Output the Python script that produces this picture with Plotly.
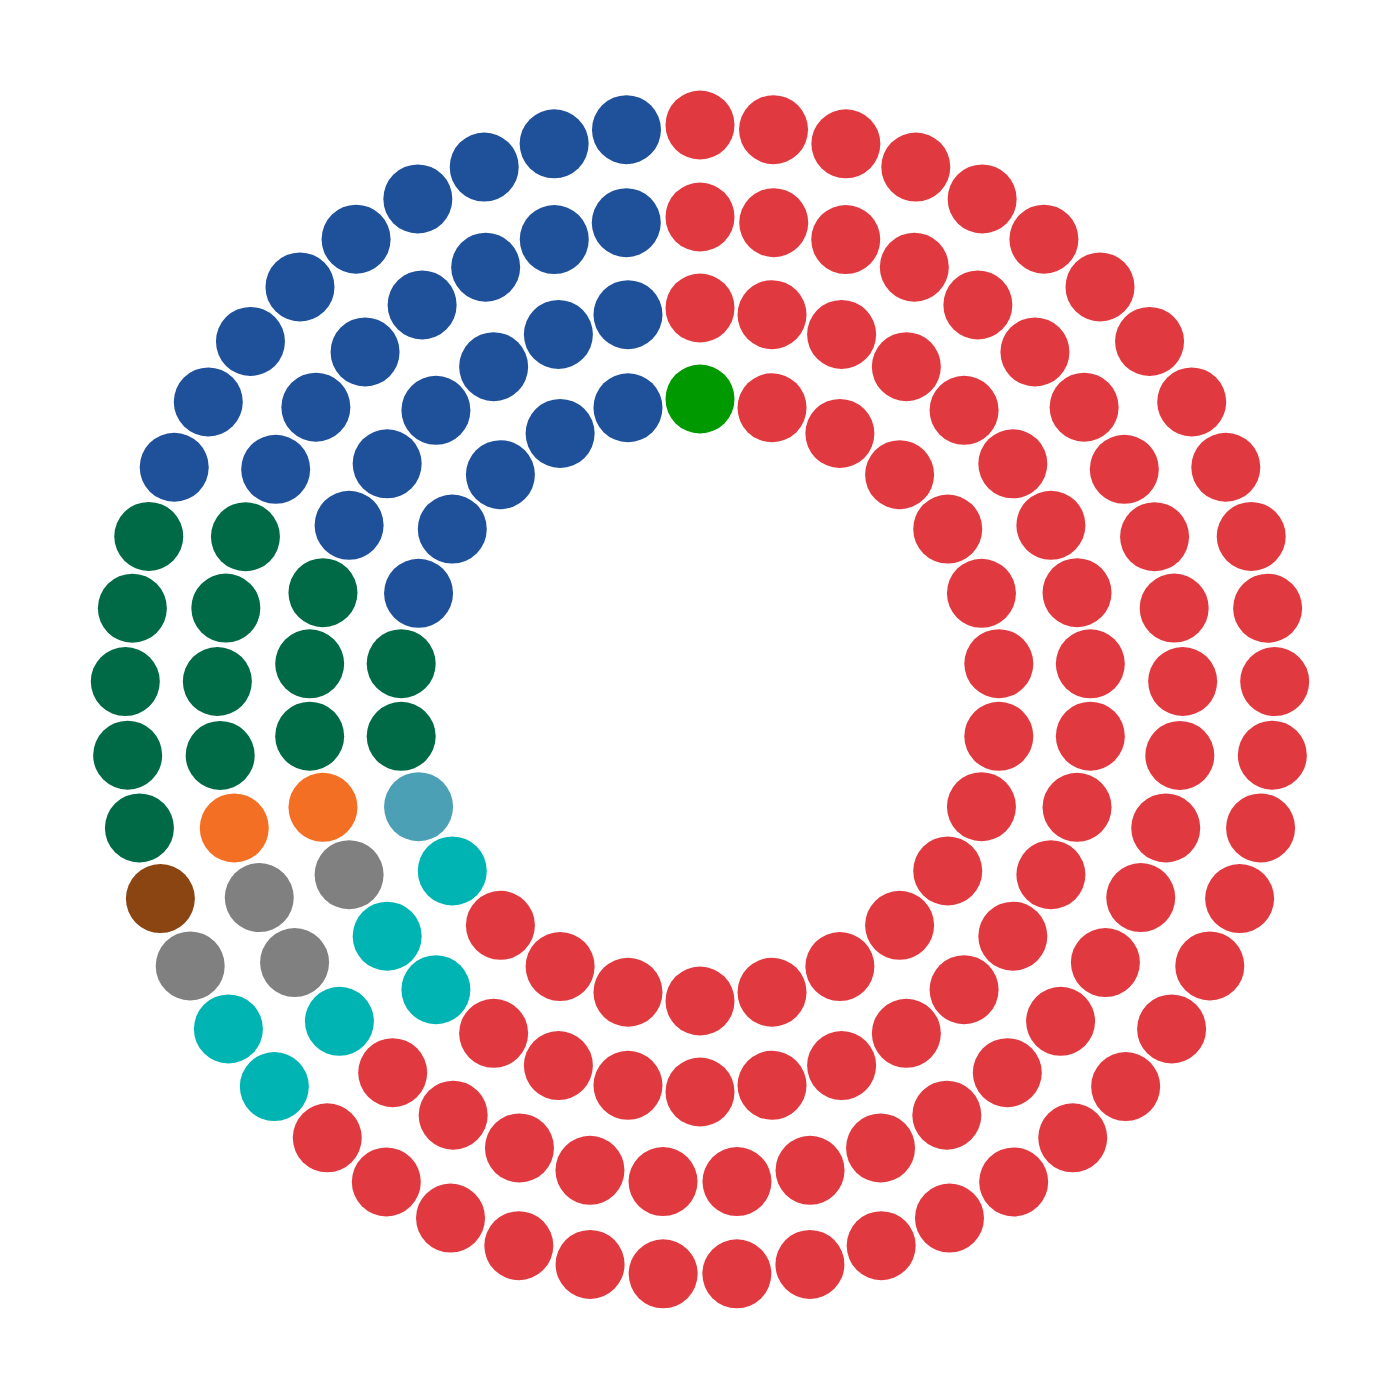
#!/usr/bin/env python3
"""
Full-circle parliament chart: 150 seats on 4 concentric rings.
"""
import math
import plotly.graph_objects as go

PARTIES = ["red", "teal", "grey", "lightblue", "brown", "orange", "darkgreen", "blue", "green"]
COLORS = {
    "red":       "#E03A40",
    "teal":      "#00B4B4",
    "grey":      "#808080",
    "lightblue": "#4CA0B5",
    "brown":     "#8B4513",
    "orange":    "#F36F24",
    "darkgreen": "#006A46",
    "blue":      "#1F509A",
    "green":     "#009900",
}

# seats per party on each ring, clockwise starting at the top seat (outer ring first)
RING_OUTER = [("red", 31), ("teal", 2), ("grey", 1), ("brown", 1), ("darkgreen", 5), ("blue", 9)]
RING_2     = [("red", 26), ("teal", 1), ("grey", 2), ("orange", 1), ("darkgreen", 4), ("blue", 7)]
RING_3     = [("red", 21), ("teal", 2), ("grey", 1), ("orange", 1), ("darkgreen", 3), ("blue", 6)]
RING_INNER = [("green", 1), ("red", 16), ("teal", 1), ("lightblue", 1), ("darkgreen", 2), ("blue", 5)]
RINGS = [RING_OUTER, RING_2, RING_3, RING_INNER]
RADII = [575, 483, 392, 301]

pts = {p: ([], []) for p in PARTIES}
for ring, r in zip(RINGS, RADII):
    n = sum(c for _, c in ring)
    k = 0
    for party, count in ring:
        for _ in range(count):
            a = math.pi / 2 - 2 * math.pi * k / n
            pts[party][0].append(r * math.cos(a))
            pts[party][1].append(r * math.sin(a))
            k += 1

fig = go.Figure()
for party in PARTIES:
    xs, ys = pts[party]
    fig.add_trace(go.Scatter(
        x=xs, y=ys, mode="markers", name=party,
        marker=dict(size=69, color=COLORS[party], line=dict(width=0)),
        hoverinfo="name",
    ))

# page body has an 8px margin, so shift the ranges to keep the centre at 700,700
fig.update_layout(
    width=1400, height=1400,
    margin=dict(l=0, r=0, t=0, b=0),
    paper_bgcolor="white", plot_bgcolor="white",
    showlegend=False,
    xaxis=dict(range=[-692, 708], visible=False),
    yaxis=dict(range=[-708, 692], visible=False),
)

fig.write_html("out.html")
